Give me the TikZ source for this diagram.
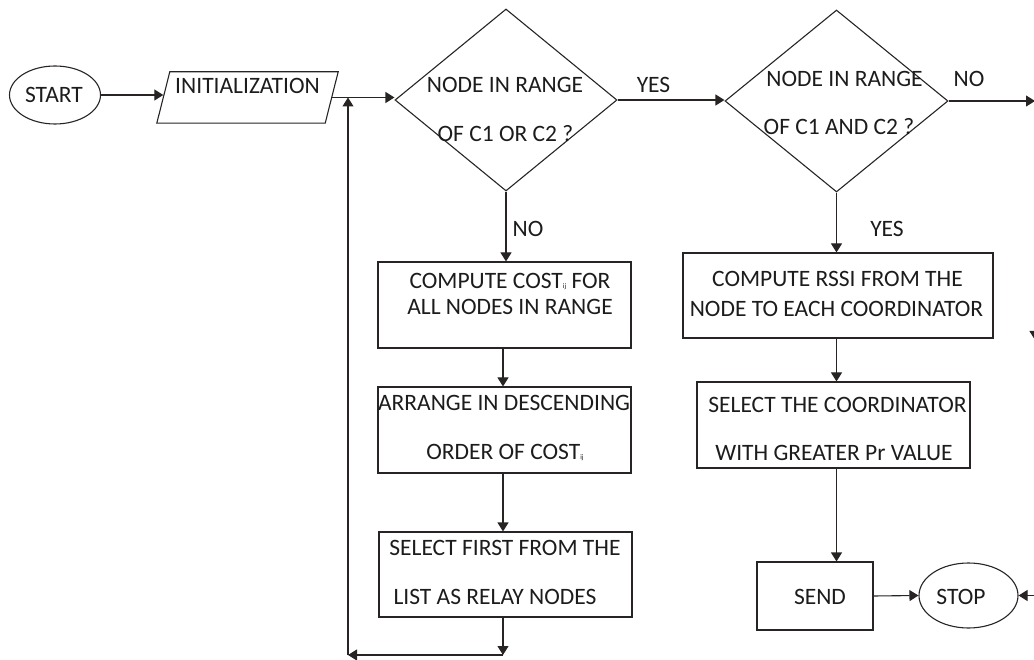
\documentclass[tikz,border=0pt]{standalone}
\usepackage{fontspec}
\setmainfont{Carlito}
\usetikzlibrary{shapes.geometric,arrows.meta,calc}
\definecolor{ink}{RGB}{40,36,36}
\definecolor{inktext}{RGB}{28,28,28}
\newcommand{\sub}[1]{{\fontsize{7}{7}\selectfont #1}}
\begin{document}
\begin{tikzpicture}[x=1pt,y=-1pt,
  every node/.style={font=\fontsize{23.5}{28}\selectfont, text=inktext},
  line/.style={draw=ink, line width=1.1pt},
  arr/.style={line, -{Triangle[length=9pt,width=11pt]}},
  box/.style={draw=ink, line width=1.1pt, rectangle, inner sep=0pt},
  term/.style={draw=ink, line width=1.1pt, ellipse, inner sep=0pt},
  decision/.style={draw=ink, line width=1.1pt, diamond, inner sep=0pt},
  txt/.style={inner sep=0pt, anchor=base},
]
\useasboundingbox (0,0) rectangle (1034,660);

% shapes
\node[term, minimum width=91, minimum height=58] (start) at (55,95) {};
\node[inner sep=0pt, minimum width=168, minimum height=51] (init) at (247.5,97.5) {};
\draw[line] ($(init.north west)+(6.5,0)$) -- ($(init.north east)+(6.5,0)$)
  -- ($(init.south east)+(-6.5,0)$) -- ($(init.south west)+(-6.5,0)$) -- cycle;
\node[decision, minimum width=222, minimum height=182] (d1) at (506,100) {};
\node[decision, minimum width=223, minimum height=182] (d2) at (836.5,101) {};
\node[box, minimum width=253, minimum height=86] (cost) at (504.5,305) {};
\node[box, minimum width=253, minimum height=86] (arrange) at (504.5,430) {};
\node[box, minimum width=253, minimum height=85] (first) at (505.5,574.5) {};
\node[box, minimum width=310, minimum height=85] (rssi) at (838,295.5) {};
\node[box, minimum width=273, minimum height=86] (coord) at (833.5,425) {};
\node[box, minimum width=116, minimum height=68] (send) at (815,596) {};
\node[term, minimum width=99, minimum height=65] (stop) at (968.5,595.5) {};

% texts
\node[txt] (tstart) at (54,102.5) {START};
\node[txt] (tinit) at (247.5,94) {INITIALIZATION};
\node[txt] (td1a) at (505,93) {NODE IN RANGE};
\node[txt] (td1b) at (505.5,142) {OF C1 OR C2 ?};
\node[txt] (tyes1) at (653.5,93) {YES};
\node[txt] (tno1) at (528,237) {NO};
\node[txt] (td2a) at (844.5,87) {NODE IN RANGE};
\node[txt] (td2b) at (839,135) {OF C1 AND C2 ?};
\node[txt] (tno2) at (969,87) {NO};
\node[txt] (tyes2) at (887,237) {YES};
\node[txt] (tcosta) at (510,289) {COMPUTE COST\sub{ij} FOR};
\node[txt] (tcostb) at (510,315) {ALL NODES IN RANGE};
\node[txt] (tarra) at (504,410) {ARRANGE IN DESCENDING};
\node[txt] (tarrb) at (505,459) {ORDER OF COST\sub{ij}};
\node[txt] (tfirsta) at (505,555) {SELECT FIRST FROM THE};
\node[txt] (tfirstb) at (495,604) {LIST AS RELAY NODES};
\node[txt] (trssia) at (837.5,287) {COMPUTE RSSI FROM THE};
\node[txt] (trssib) at (836.5,317) {NODE TO EACH COORDINATOR};
\node[txt] (tcoorda) at (837.5,412) {SELECT THE COORDINATOR};
\node[txt] (tcoordb) at (834,460) {WITH GREATER Pr VALUE};
\node[txt] (tsend) at (820,604) {SEND};
\node[txt] (tstop) at (961,604) {STOP};

% helper points
\coordinate (join) at (348,97.5);
\coordinate (lp1) at (503,655);
\coordinate (lp2) at (348,655);
\coordinate (exitno) at (1035,101);
\coordinate (ret) at (1035,595.5);
\coordinate (side1) at (1035,300);
\coordinate (side2) at (1035,340);

% connectors
\draw[arr] (start.east) -- (start.east -| init.west);
\draw[arr] (init.east) -- (init.east -| d1.west);
\draw[arr] (d1.east) -- (d1.east -| d2.west);
\draw[arr] (d2.east) -- (exitno);
\draw[arr] (d1.south) -- (d1.south |- cost.north);
\draw[arr] (cost.south -| lp1) -- (arrange.north -| lp1);
\draw[arr] (arrange.south -| lp1) -- (first.north -| lp1);
\draw[arr] (first.south -| lp1) -- (lp1);
\draw[arr] (lp1) -- (lp2);
\draw[arr] (lp2) -- (join);
\draw[arr] (d2.south) -- (d2.south |- rssi.north);
\draw[arr] (rssi.south -| d2.south) -- (coord.north -| d2.south);
\draw[arr] (coord.south -| d2.south) -- (send.north -| d2.south);
\draw[arr] (send.east) -- (stop.west);
\draw[arr] (ret) -- (stop.east);
\draw[arr] (side1) -- (side2);
\end{tikzpicture}
\end{document}
